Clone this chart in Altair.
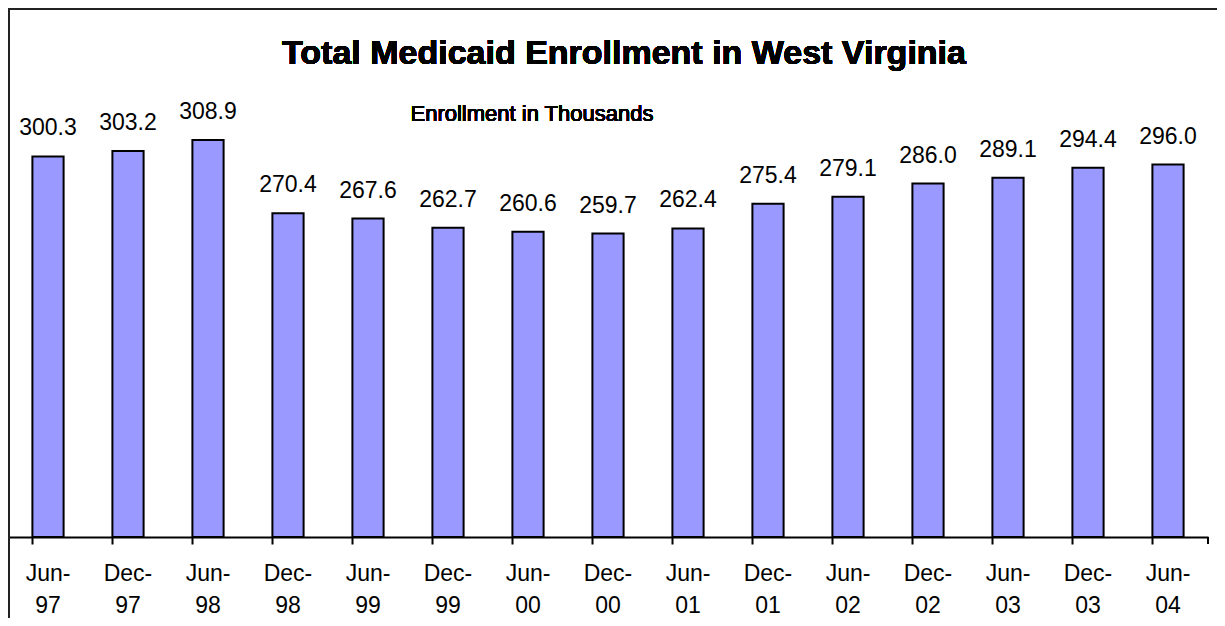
import altair as alt
import pandas as pd

periods = ["Jun-97", "Dec-97", "Jun-98", "Dec-98", "Jun-99", "Dec-99", "Jun-00", "Dec-00",
           "Jun-01", "Dec-01", "Jun-02", "Dec-02", "Jun-03", "Dec-03", "Jun-04"]
enrollment = [300.3, 303.2, 308.9, 270.4, 267.6, 262.7, 260.6, 259.7,
              262.4, 275.4, 279.1, 286.0, 289.1, 294.4, 296.0]
axis_min = 100

df = pd.DataFrame({"period": periods, "enrollment": enrollment})

FONT = "Liberation Sans"
W, H = 1200, 475

x = alt.X("period:N", sort=periods,
          scale=alt.Scale(paddingInner=0.61, paddingOuter=0.305),
          axis=alt.Axis(title=None, labelAngle=0, bandPosition=0,
                        labelExpr="[slice(datum.label,0,4), slice(datum.label,4)]",
                        labelFont=FONT, labelFontSize=23, labelColor="black",
                        labelLineHeight=32, labelPadding=18,
                        tickSize=7, tickWidth=2, tickColor="black",
                        domainColor="black", domainWidth=2, grid=False))
y = alt.Y("enrollment:Q", scale=alt.Scale(domain=[axis_min, 350], zero=False, nice=False),
          axis=None)

base = alt.Chart(df)
bars = base.mark_bar(fill="#9999FF", stroke="black", strokeWidth=2).encode(
    x=x, y=y, y2=alt.datum(axis_min))
labels = base.mark_text(font=FONT, fontSize=23, baseline="alphabetic", dy=-21,
                        color="black").encode(x=x, y=y, text=alt.Text("enrollment:Q", format=".1f"))

last_tick = alt.Chart(df).mark_rule(color="black", strokeWidth=2).encode(
    x=alt.value(W), y=alt.value(H), y2=alt.value(H + 7))

title = alt.Chart(df).mark_text(font=FONT, fontSize=34, fontWeight="bold",
                                baseline="alphabetic", align="center", color="black").encode(
    x=alt.value(616), y=alt.value(2), text=alt.value("Total Medicaid Enrollment in West Virginia"))
subtitle = alt.Chart(df).mark_text(font=FONT, fontSize=22, baseline="alphabetic",
                                   align="center", color="black").encode(
    x=alt.value(524), y=alt.value(59), text=alt.value("Enrollment in Thousands"))

frame_left = alt.Chart(df).mark_rule(color="#222222", strokeWidth=1.5).encode(
    x=alt.value(0.75), y=alt.value(-53.5), y2=alt.value(H + 90))
frame_top = alt.Chart(df).mark_rule(color="#222222", strokeWidth=1.5).encode(
    x=alt.value(0), x2=alt.value(W + 20), y=alt.value(-53.25))

chart = alt.layer(bars, labels, last_tick, title, subtitle, frame_left, frame_top).properties(
    width=W, height=H,
    autosize=alt.AutoSizeParams(type="none"),
    padding={"left": 0, "top": 54, "right": 9, "bottom": 81},
    background="white",
).configure_view(strokeWidth=0)

chart.save("out.html", embed_options={"renderer": "svg", "actions": False})
